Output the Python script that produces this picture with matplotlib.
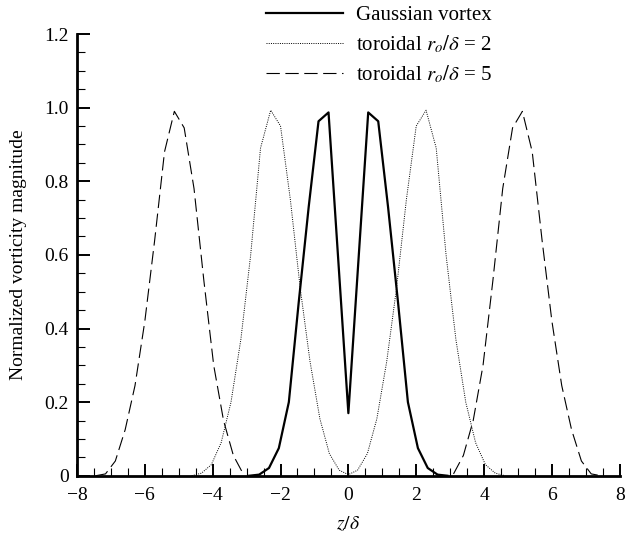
import matplotlib
matplotlib.use("Agg")
import matplotlib.pyplot as plt
from matplotlib.ticker import MultipleLocator

plt.rcParams['font.family'] = ['Liberation Serif', 'DejaVu Serif']
plt.rcParams['mathtext.fontset'] = 'stix'

# Gaussian vortex (right half, mirrored)
gauss_x = [0.0, 0.585, 0.88, 1.17, 1.465, 1.755, 2.05, 2.34, 2.63, 2.92]
gauss_y = [0.17, 0.987, 0.963, 0.73, 0.47, 0.20, 0.075, 0.021, 0.003, 0.0]

# toroidal r_o/delta = 2 (right half, mirrored)
tor2_x = [0.0, 0.27, 0.56, 0.84, 1.13, 1.42, 1.71, 2.0, 2.29, 2.59, 2.88,
          3.17, 3.46, 3.75, 4.04, 4.33, 4.62]
tor2_y = [0.003, 0.015, 0.06, 0.155, 0.31, 0.51, 0.75, 0.95, 0.993, 0.89, 0.60,
          0.37, 0.20, 0.09, 0.03, 0.007, 0.0]

# toroidal r_o/delta = 5 (right peak, mirrored)
tor5_x = [3.10, 3.39, 3.68, 3.97, 4.26, 4.55, 4.84, 5.13, 5.42, 5.71, 6.0,
          6.29, 6.58, 6.87, 7.16, 7.45]
tor5_y = [0.005, 0.055, 0.15, 0.30, 0.53, 0.78, 0.945, 0.99, 0.88, 0.64, 0.42,
          0.245, 0.125, 0.04, 0.005, 0.0]


def mirror(xs, ys):
    # reflect a half profile that starts at z = 0
    lx = [-v for v in xs[:0:-1]]
    ly = ys[:0:-1]
    return lx + xs, ly + ys


gx, gy = mirror(gauss_x, gauss_y)
t2x, t2y = mirror(tor2_x, tor2_y)
t5x_r, t5y_r = tor5_x, tor5_y
t5x_l = [-v for v in tor5_x[::-1]]
t5y_l = tor5_y[::-1]

yticks = [0, 0.2, 0.4, 0.6, 0.8, 1.0, 1.2]
ytick_labels = ['0', '0.2', '0.4', '0.6', '0.8', '1.0', '1.2']
xticks = [-8, -6, -4, -2, 0, 2, 4, 6, 8]

fig = plt.figure(figsize=(6.26, 5.4), dpi=100)
ax = fig.add_axes([0.123, 0.119, 0.867, 0.818])

l1, = ax.plot(gx, gy, color='black', lw=1.6, label='Gaussian vortex')
l2, = ax.plot(t2x, t2y, color='black', lw=0.7, dashes=(1, 1.3),
              label=r'toroidal $r_o/\delta$ = 2')
l3, = ax.plot(t5x_l, t5y_l, color='black', lw=0.8, dashes=(12, 5),
              label=r'toroidal $r_o/\delta$ = 5')
ax.plot(t5x_r, t5y_r, color='black', lw=0.8, dashes=(12, 5))

ax.set_xlim(-8, 8)
ax.set_ylim(0, 1.2)
ax.set_xticks(xticks)
ax.set_yticks(yticks)
ax.set_yticklabels(ytick_labels)
ax.xaxis.set_minor_locator(MultipleLocator(0.5))
ax.yaxis.set_minor_locator(MultipleLocator(0.05))
ax.tick_params(which='major', direction='in', length=9, width=1.4,
               labelsize=14)
ax.tick_params(axis='x', which='major', pad=8)
ax.tick_params(axis='y', which='major', pad=6)
ax.tick_params(which='minor', direction='in', length=5.5, width=0.8)
ax.spines['top'].set_visible(False)
ax.spines['right'].set_visible(False)
ax.spines['left'].set_linewidth(2)
ax.spines['bottom'].set_linewidth(2)

ax.set_xlabel(r'$z/\delta$', fontsize=14, labelpad=8)
ax.set_ylabel('Normalized vorticity magnitude', fontsize=14, labelpad=12)

fig.legend(handles=[l1, l2, l3], loc='upper left',
           bbox_to_anchor=(0.395, 1.025), frameon=False, fontsize=15,
           handlelength=3.7, handletextpad=0.6, labelspacing=0.42)

fig.savefig('out.png', dpi=100)
